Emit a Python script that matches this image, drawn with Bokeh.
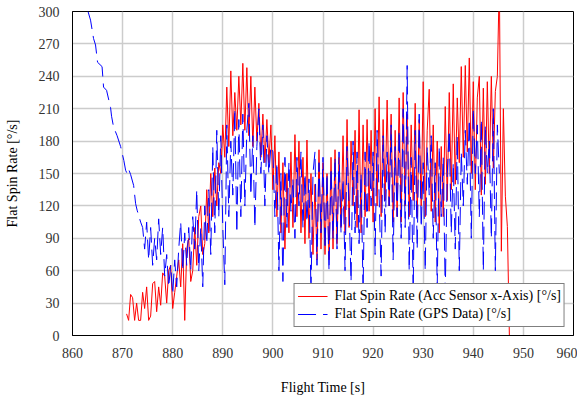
import numpy as np
from bokeh.plotting import figure
from bokeh.models import FixedTicker, Range1d
from bokeh.embed import file_html
from bokeh.resources import INLINE

# ---- data ----
x_ticks = [860, 870, 880, 890, 900, 910, 920, 930, 940, 950, 960]
y_ticks = [0, 30, 60, 90, 120, 150, 180, 210, 240, 270, 300]

# Flat spin rate from acceleration sensor, one sample every 0.4 s from 870.8 s
acc_start = 870.8
acc_step = 0.4
acc_rate = [
    20, 14, 38, 35, 14,      30, 14, 14, 40, 25,
    45, 14, 18, 48, 50,      22, 45, 28, 58, 55,
    30, 60, 65, 25, 40,      55, 70, 45, 85, 14,
    80, 90, 50, 60, 100,     65, 110, 120, 75, 85,
    135, 95, 150, 110, 155,  120, 160, 150, 195, 165,
    230, 175, 245, 185, 225, 190, 240, 195, 252, 190,
    248, 185, 240, 175, 230, 180, 215, 165, 205, 160,
    200, 160, 195, 135, 185, 110, 170, 95, 160, 80,
    150, 95, 170, 100, 186,  110, 180, 95, 165, 85,
    181, 90, 150, 75, 140,   70, 172, 80, 160, 75,
    150, 70, 165, 80, 172,   85, 165, 100, 185, 95,
    200, 100, 180, 120, 190, 100, 209, 95, 195, 110,
    200, 115, 190, 105, 210, 120, 221, 110, 200, 125,
    218, 120, 205, 105, 190, 110, 220, 105, 225, 120,
    205, 110, 195, 125, 215, 110, 200, 120, 235, 110,
    190, 228, 115, 195, 105, 180, 95, 175, 110, 212,
    125, 225, 135, 233, 140, 220, 160, 249, 165, 250,
    170, 257, 150, 235, 135, 220, 240, 130, 229, 140,
    235, 150, 240, 155, 226, 240, 330, 78, 210, 129,
    101, 0,
]

# Flat spin rate from GPS data: smooth decay part (irregular samples)
gps_early_time = [863.1, 863.6, 864.2, 864.6, 865.0, 865.9, 866.2, 866.8,
                  867.6, 867.8, 868.2, 868.9, 869.6, 870.25, 870.6, 870.9,
                  871.2, 871.6, 872.2, 872.6, 872.9, 873.6]
gps_early_rate = [300, 292, 275, 269, 253, 249, 230, 227,
                  211, 203, 193, 185, 175, 162, 153, 150,
                  154, 149, 139, 122, 116, 105]

# GPS data, oscillating part, one sample every 0.4 s from 874.0 s
gps_start = 874.0
gps_step = 0.4
gps_rate = [
    100, 80, 105, 70, 100,   65, 90, 70, 108, 75,
    100, 55, 75, 45, 65,     38, 70, 45, 80, 105,
    60, 95, 65, 100, 60,     110, 80, 135, 60, 100,
    45, 120, 85, 135, 75,    175, 95, 190, 110, 185,
    100, 47, 195, 110, 180,  130, 210, 95, 200, 110,
    205, 120, 190, 215, 130, 185, 100, 175, 210, 150,
    195, 120, 185, 150, 175, 170, 110, 160, 60, 150,
    50, 165, 100, 160, 115,  145, 90, 165, 120, 170,
    100, 150, 105, 145, 40,  150, 170, 65, 160, 95,
    165, 80, 150, 60, 155,   90, 165, 80, 170, 95,
    145, 60, 175, 120, 50,   180, 95, 170, 85, 150,
    40, 170, 100, 180, 120,  170, 75, 190, 130, 55,
    185, 95, 170, 120, 195,  70, 175, 110, 190, 90,
    210, 100, 250, 60, 165,  40, 190, 80, 205, 100,
    160, 60, 175, 130, 185,  90, 160, 45, 175, 110,
    165, 40, 150, 190, 95,   160, 80, 185, 60, 170,
    120, 190, 140, 200, 90,  210, 150, 195, 110, 200,
    60, 195, 150, 180, 90,   210, 60, 195, 150,
]

acc_time = acc_start + acc_step * np.arange(len(acc_rate))
gps_time = np.concatenate([gps_early_time,
                           gps_start + gps_step * np.arange(len(gps_rate))])
gps_all = gps_early_rate + gps_rate

FONT = "'Liberation Serif', 'Times New Roman', serif"

p = figure(width=577, height=397, output_backend="svg", toolbar_location=None,
           x_range=Range1d(860, 960), y_range=Range1d(0, 300),
           min_border_left=72, min_border_right=4, min_border_top=11,
           min_border_bottom=59)

p.line(acc_time, acc_rate, line_color="#ff0000", line_width=1,
       legend_label="Flat Spin Rate (Acc Sensor x-Axis) [°/s]")
p.line(gps_time, gps_all, line_color="#0000ff", line_width=1, line_dash="18 7",
       legend_label="Flat Spin Rate (GPS Data) [°/s]")

p.xaxis.ticker = FixedTicker(ticks=x_ticks)
p.yaxis.ticker = FixedTicker(ticks=y_ticks)
p.xgrid.ticker = FixedTicker(ticks=x_ticks)
p.ygrid.ticker = FixedTicker(ticks=y_ticks)
p.grid.grid_line_color = "#cccccc"
p.grid.grid_line_width = 1.5

for ax in (p.xaxis, p.yaxis):
    ax.axis_line_color = "black"
    ax.major_tick_line_color = None
    ax.minor_tick_line_color = None
    ax.major_label_text_font = FONT
    ax.major_label_text_font_size = "14px"
    ax.major_label_text_color = "#333333"
    ax.axis_label_text_font = FONT
    ax.axis_label_text_font_size = "14px"
    ax.axis_label_text_font_style = "normal"
    ax.axis_label_text_color = "black"

p.xaxis.axis_label = "Flight Time [s]"
p.yaxis.axis_label = "Flat Spin Rate [°/s]"
p.xaxis.major_label_standoff = 6
p.yaxis.major_label_standoff = 7
p.xaxis.axis_label_standoff = 19
p.yaxis.axis_label_standoff = 16

p.outline_line_color = "black"
p.outline_line_width = 1

lg = p.legend[0]
lg.location = "bottom_right"
lg.margin = 8
lg.padding = 3
lg.spacing = 0
lg.label_height = 18
lg.glyph_height = 18
lg.glyph_width = 30
lg.label_standoff = 7
lg.label_text_font = FONT
lg.label_text_font_size = "14px"
lg.label_text_color = "black"
lg.border_line_color = "black"
lg.border_line_width = 1
lg.background_fill_alpha = 1.0

open("out.html", "w").write(file_html(p, INLINE))
